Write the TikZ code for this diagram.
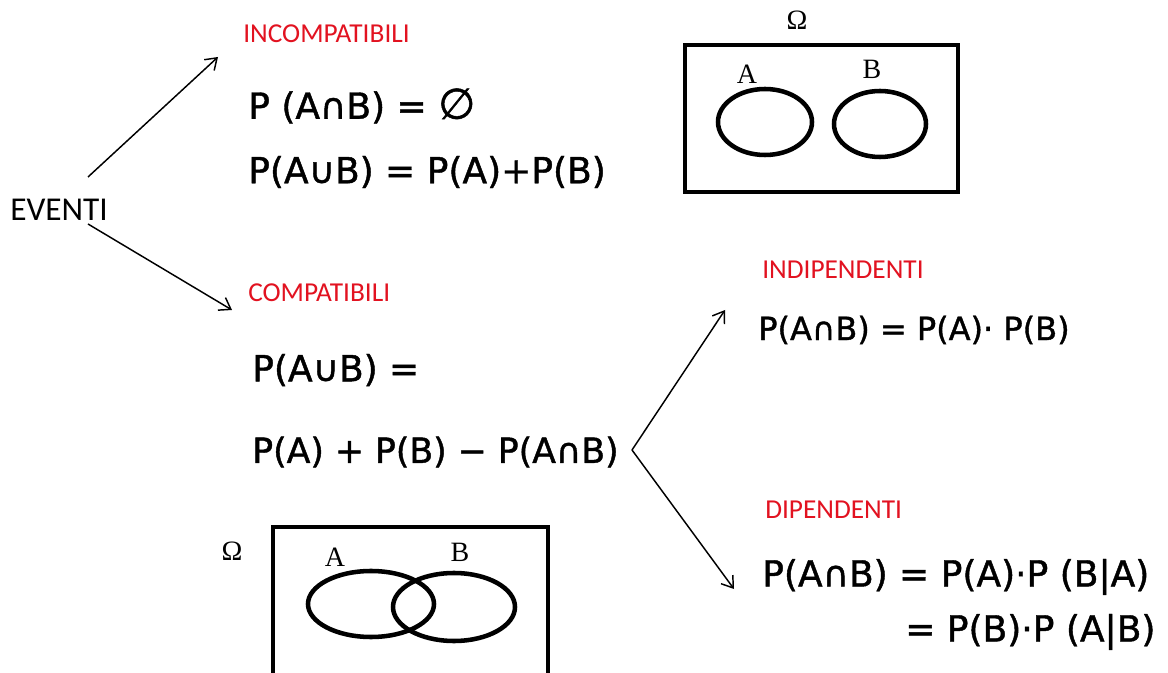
\documentclass[tikz,border=0pt]{standalone}
\usepackage{fontspec}
\setmainfont{Carlito}
\newfontfamily\hand{DejaVu Sans}[BoldFont={DejaVu Sans}, BoldFeatures={FakeBold=1.2}]
\newfontfamily\serifm{Liberation Serif}
\usetikzlibrary{arrows.meta}
\definecolor{lblred}{RGB}{226,18,32}
\begin{document}
\begin{tikzpicture}[x=0.75pt,y=-0.75pt,
  lbl/.style={text=lblred, font=\fontsize{20.5}{24}\selectfont, inner sep=0, anchor=west},
  frm/.style={font=\hand\bfseries\fontsize{27}{32}\selectfont, inner sep=0, anchor=west},
  frmsm/.style={font=\hand\bfseries\fontsize{24}{28}\selectfont, inner sep=0, anchor=west},
  arr/.style={-{Straight Barb[length=8pt,width=11pt]}, line width=1.1pt},
  box/.style={line width=3.7pt},
  set/.style={line width=3.4pt},
  setlbl/.style={font=\serifm\fontsize{21}{23}\selectfont, inner sep=0}]
\useasboundingbox (0,0) rectangle (1168,673);
\clip (0,0) rectangle (1168,673);
\fill[white] (0,0) rectangle (1168,673);

% main text
\node[font=\fontsize{25}{30}\selectfont, inner sep=0, anchor=west] (eventi) at (10,210) {EVENTI};
\node[lbl] (incomp) at (243,34) {INCOMPATIBILI};
\node[frm] (f1) at (248,106) {P (A∩B) = {\fontsize{32}{32}\selectfont ∅}};
\node[frm] (f2) at (248,172) {P(A∪B) = P(A)+P(B)};
\node[lbl] (comp) at (248,293) {COMPATIBILI};
\node[frm] (f3) at (252,370) {P(A∪B) =};
\node[frm, font=\hand\bfseries\fontsize{26}{30}\selectfont] (f4) at (252,452) {P(A) + P(B) − P(A∩B)};
\node[lbl] (indip) at (762,270) {INDIPENDENTI};
\node[frmsm] (f5) at (758,330) {P(A∩B) = P(A)· P(B)};
\node[lbl] (dip) at (765,510) {DIPENDENTI};
\node[frm] (f6) at (762,577) {P(A∩B) = P(A)·P (B|A)};
\node[frm] (f7) at (905,632) {= P(B)·P (A|B)};

% arrows
\coordinate (a1s) at (88,177);
\coordinate (a1e) at (218,57);
\coordinate (a2s) at (88,224);
\coordinate (a2e) at (232,310);
\coordinate (v) at (632,450);
\coordinate (a3e) at (725,310);
\coordinate (a4e) at (734,589);
\draw[arr] (a1s) -- (a1e);
\draw[arr] (a2s) -- (a2e);
\draw[arr] (v) -- (a3e);
\draw[arr] (v) -- (a4e);

% top Venn
\node[setlbl] (om1) at (797,20) {Ω};
\draw[box] (685,45) rectangle (958,192);
\node[setlbl] (la1) at (747,74) {A};
\node[setlbl] (lb1) at (872,69) {B};
\draw[set] (765,122) ellipse [x radius=47, y radius=33];
\draw[set] (880,124) ellipse [x radius=46, y radius=33];

% bottom Venn
\node[setlbl] (om2) at (232,551) {Ω};
\draw[box] (273,700) -- (273,527) -- (548,527) -- (548,700);
\node[setlbl] (la2) at (335,557) {A};
\node[setlbl] (lb2) at (460,552) {B};
\draw[set] (371,604) ellipse [x radius=63, y radius=33];
\draw[set] (454,607) ellipse [x radius=61, y radius=34];
\end{tikzpicture}
\end{document}
